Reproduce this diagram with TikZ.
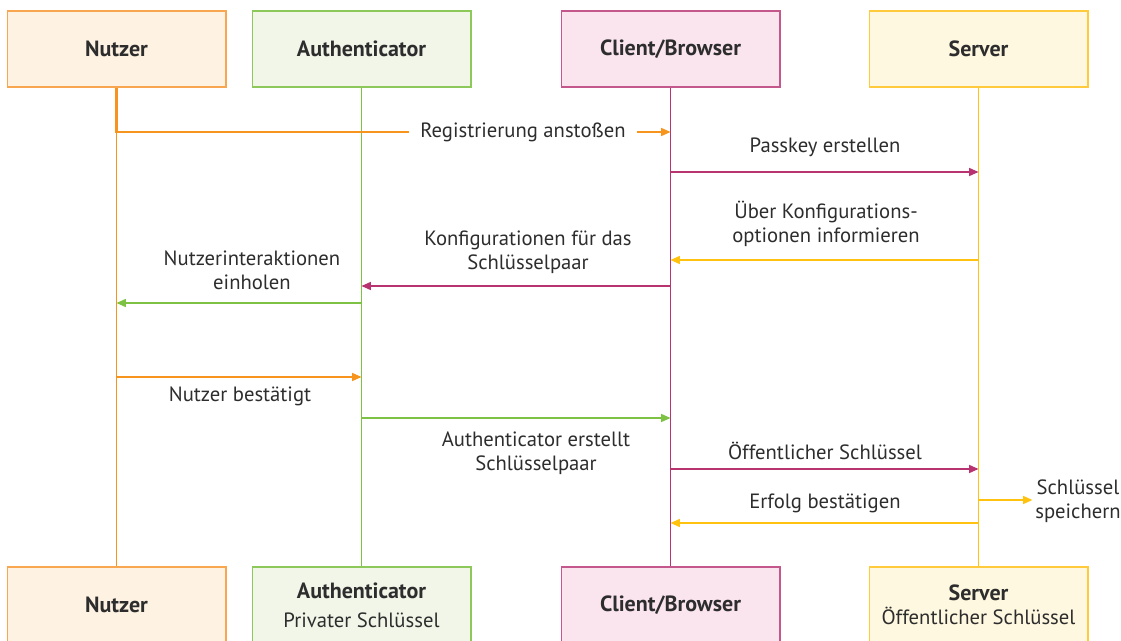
\documentclass[tikz,border=0pt]{standalone}
\usepackage{fontspec}
\setmainfont{PT Sans}
\usetikzlibrary{arrows.meta,positioning}

\definecolor{usrline}{HTML}{F7941D}
\definecolor{usrfill}{HTML}{FEF2E2}
\definecolor{usrdraw}{HTML}{F9A650}
\definecolor{autline}{HTML}{7DC243}
\definecolor{autfill}{HTML}{F1F6E8}
\definecolor{autdraw}{HTML}{8CC85A}
\definecolor{cliline}{HTML}{B83470}
\definecolor{clifill}{HTML}{FAE4EE}
\definecolor{clidraw}{HTML}{C4588C}
\definecolor{srvline}{HTML}{FFC20E}
\definecolor{srvfill}{HTML}{FFF8E0}
\definecolor{srvdraw}{HTML}{FFCB3D}
\definecolor{txt}{HTML}{2D2D2D}

\begin{document}
\begin{tikzpicture}[
    x=0.75pt, y=-0.75pt,
    every node/.style={text=txt, font=\fontsize{15.5}{18}\selectfont},
    party/.style={draw, line width=1pt, minimum width=164pt, minimum height=57pt, align=center, inner sep=0pt, font=\fontsize{16.5}{18}\selectfont\bfseries},
    label/.style={align=center, inner sep=2pt},
    life/.style={line width=0.8pt},
    msg/.style={-{Triangle[length=7pt, width=6pt]}, line width=1.1pt}
  ]
    \useasboundingbox (0,0) rectangle (1121,641);
    % participants
    \node[party, fill=usrfill, draw=usrdraw] (usrTop) at (116.5,49) {Nutzer};
    \node[party, fill=autfill, draw=autdraw] (autTop) at (361.5,49) {Authenticator};
    \node[party, fill=clifill, draw=clidraw] (cliTop) at (670.5,49) {Client/Browser};
    \node[party, fill=srvfill, draw=srvdraw] (srvTop) at (978.5,49) {Server};
    \node[party, fill=usrfill, draw=usrdraw] (usrBot) at (116.5,605) {Nutzer};
    \node[party, fill=autfill, draw=autdraw] (autBot) at (361.5,605) {Authenticator\\[4pt]\fontsize{15.5}{18}\selectfont\mdseries Privater Schlüssel};
    \node[party, fill=clifill, draw=clidraw] (cliBot) at (670.5,605) {Client/Browser};
    \node[party, fill=srvfill, draw=srvdraw] (srvBot) at (978.5,605) {Server\\\fontsize{15.5}{18}\selectfont\mdseries Öffentlicher Schlüssel};
    % lifelines
    \draw[life, usrline] (usrTop) -- (usrBot);
    \draw[life, autline] (autTop) -- (autBot);
    \draw[life, cliline] (cliTop) -- (cliBot);
    \draw[life, srvline] (srvTop) -- (srvBot);
    % labels
    \node[label, inner sep=8pt] (reg) at (523,132) {Registrierung anstoßen};
    \node[label] (passkey) at (825,147) {Passkey erstellen};
    \node[label] (info) at (826,224) {Über Konfigurations-\\optionen informieren};
    \node[label] (conf) at (528,252) {Konfigurationen für das\\Schlüsselpaar};
    \node[label] (interact) at (252,270) {Nutzerinteraktionen\\einholen};
    \node[label] (confirm) at (240,396) {Nutzer bestätigt};
    \node[label] (create) at (536,453) {Authenticator erstellt\\Schlüsselpaar};
    \node[label] (pubkey) at (825,451) {Öffentlicher Schlüssel};
    \node[label] (store) at (1078,501) {Schlüssel\\speichern};
    \node[label] (success) at (825,503) {Erfolg bestätigen};
    % messages
    \draw[usrline, line width=2pt] (usrTop.south) |- (reg.west);
    \draw[msg, usrline] (reg.east) -- (cliTop.south |- reg.east);
    \draw[msg, cliline] (cliTop.south |- 0,172) -- (srvTop.south |- 0,172);
    \draw[msg, srvline] (srvTop.south |- 0,260) -- (cliTop.south |- 0,260);
    \draw[msg, cliline] (cliTop.south |- 0,286) -- (autTop.south |- 0,286);
    \draw[msg, autline] (autTop.south |- 0,303) -- (usrTop.south |- 0,303);
    \draw[msg, usrline] (usrTop.south |- 0,377) -- (autTop.south |- 0,377);
    \draw[msg, autline] (autTop.south |- 0,418) -- (cliTop.south |- 0,418);
    \draw[msg, cliline] (cliTop.south |- 0,469) -- (srvTop.south |- 0,469);
    \draw[msg, srvline] (srvTop.south |- 0,500) -- (store.west |- 0,500);
    \draw[msg, srvline] (srvTop.south |- 0,523) -- (cliTop.south |- 0,523);
\end{tikzpicture}
\end{document}
